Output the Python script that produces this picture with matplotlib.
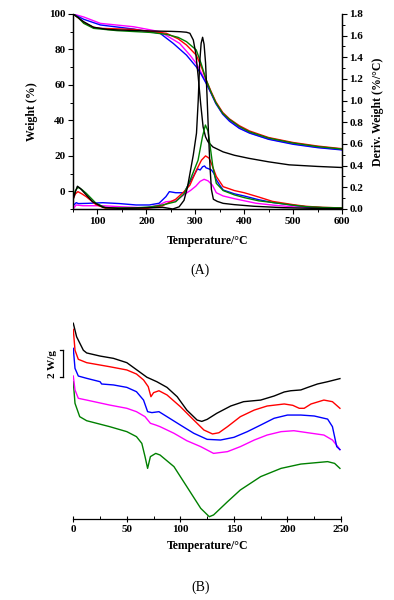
import matplotlib
matplotlib.use('Agg')
import matplotlib.pyplot as plt
from matplotlib.ticker import MultipleLocator

plt.rcParams['font.family'] = ['Liberation Serif', 'DejaVu Serif']
plt.rcParams['font.weight'] = 'bold'

# ---- panel A: TGA (weight %) ----
t_black = [50, 60, 72, 92, 120, 150, 207, 250, 269, 282, 289, 296, 301, 306, 311, 316, 321, 326, 336, 357, 380, 409, 450, 492, 550, 600]
w_black = [100, 98, 95.6, 92.5, 91.3, 90.9, 90.4, 90.2, 90.0, 89.7, 89.1, 85.3, 77.8, 64.6, 49.5, 36.3, 30.7, 27.9, 25.0, 22.2, 20.3, 18.6, 16.6, 14.9, 14.0, 13.4]
t_green = [50, 60, 72, 92, 140, 208, 241, 265, 282, 302, 312, 322, 332, 342, 356, 370, 390, 411, 450, 500, 550, 600]
w_green = [100, 98.2, 94.7, 91.9, 90.6, 89.6, 88.5, 86.8, 84.4, 79.7, 72, 63, 56, 50, 44, 40.5, 36.5, 33.5, 30, 27.2, 25.2, 23.8]
t_red = [50, 60, 72, 92, 106, 174, 241, 265, 282, 302, 312, 322, 332, 342, 356, 370, 390, 411, 450, 500, 550, 600]
w_red = [100, 98, 95, 92.5, 91.9, 91.3, 89.1, 86, 82.5, 76.8, 70.5, 63, 56.5, 50.5, 44.5, 40.8, 37, 34, 30.3, 27.5, 25.5, 24]
t_blue = [50, 72, 106, 174, 228, 255, 282, 302, 312, 322, 332, 342, 356, 370, 390, 411, 450, 500, 550, 600]
w_blue = [100, 97.0, 93.8, 91.5, 89.1, 83.4, 76.8, 70.2, 66, 61, 55.5, 49.5, 43.5, 39.5, 35.5, 32.8, 29.3, 26.5, 24.6, 23.3]
t_mag = [50, 72, 106, 174, 228, 268, 290, 302, 312, 322, 332, 342, 356, 370, 390, 411, 450, 500, 550, 600]
w_mag = [100, 98.3, 94.7, 92.8, 90, 83.4, 76.5, 72.1, 67, 61.5, 55.5, 49.8, 43.8, 39.8, 35.8, 33, 29.5, 26.8, 24.8, 23.5]

# ---- panel A: DTG (%/°C) ----
d_black_t = [50, 55, 59, 65, 74, 90, 111, 145, 213, 233, 254, 267, 277, 284, 290, 296, 302.5, 306, 309, 312, 315, 318, 321, 324, 327, 330, 333, 337, 345, 357, 380, 420, 480, 540, 600]
d_black = [0.083, 0.16, 0.21, 0.19, 0.145, 0.067, 0.016, 0.005, 0.012, 0.016, 0.0, 0.02, 0.08, 0.2, 0.35, 0.5, 0.7, 1.0, 1.35, 1.53, 1.585, 1.52, 1.35, 1.05, 0.7, 0.4, 0.18, 0.09, 0.07, 0.052, 0.04, 0.025, 0.012, 0.006, 0.004]
d_green_t = [50, 55, 60, 68, 77, 97, 117, 177, 210, 233, 260, 277, 288, 296, 305.7, 314.7, 320.7, 326, 329.6, 336, 343, 357, 380, 400, 430, 458, 500, 526, 560, 600]
d_green = [0.1, 0.17, 0.2, 0.18, 0.145, 0.053, 0.01, 0.01, 0.02, 0.037, 0.067, 0.14, 0.25, 0.34, 0.45, 0.667, 0.775, 0.72, 0.607, 0.39, 0.237, 0.17, 0.13, 0.105, 0.075, 0.06, 0.035, 0.022, 0.014, 0.01]
d_red_t = [50, 55, 60, 68, 77, 97, 117, 200, 233, 260, 277, 289, 302.5, 312.6, 321, 328, 333, 343, 357, 380, 400, 430, 458, 500, 526, 560, 600]
d_red = [0.09, 0.14, 0.16, 0.14, 0.114, 0.04, 0.005, 0.005, 0.03, 0.09, 0.16, 0.22, 0.36, 0.45, 0.49, 0.47, 0.42, 0.30, 0.206, 0.17, 0.15, 0.11, 0.07, 0.04, 0.025, 0.015, 0.01]
d_blue_t = [50, 56.5, 61, 80, 111, 145, 179, 206, 226, 240, 247, 260, 277, 288, 296, 304.6, 310, 315, 319, 322, 328, 333, 338, 343, 350, 357, 380, 400, 430, 458, 500, 526, 560, 600]
d_blue = [0.03, 0.058, 0.05, 0.052, 0.058, 0.05, 0.037, 0.037, 0.053, 0.114, 0.16, 0.15, 0.15, 0.24, 0.3, 0.37, 0.36, 0.39, 0.397, 0.38, 0.37, 0.36, 0.33, 0.27, 0.22, 0.175, 0.14, 0.12, 0.085, 0.06, 0.035, 0.02, 0.012, 0.008]
d_mag_t = [50, 56.5, 70, 111, 150, 200, 226, 240, 260, 281, 290, 301, 310, 318, 326, 335, 343, 357, 380, 424, 460, 500, 560, 600]
d_mag = [0.0, 0.037, 0.03, 0.03, 0.02, 0.01, 0.037, 0.067, 0.075, 0.145, 0.17, 0.21, 0.255, 0.274, 0.26, 0.22, 0.15, 0.12, 0.095, 0.053, 0.035, 0.02, 0.01, 0.006]

# ---- panel B: DSC (W/g, arbitrary offset) ----
b_black_t = [0, 3.1, 9.4, 12.5, 25, 37.5, 50, 59.4, 68.75, 78, 87.5, 97, 106, 115.6, 120, 125, 134, 147, 159, 175, 187.5, 197, 203, 212.5, 219, 228, 237.5, 249]
b_black = [14.5, 13.5, 12.5, 12.3, 12.07, 11.9, 11.58, 11.04, 10.5, 10.17, 9.75, 9.06, 8.07, 7.33, 7.23, 7.38, 7.83, 8.37, 8.69, 8.81, 9.11, 9.41, 9.5, 9.56, 9.75, 10.0, 10.17, 10.4]
b_red_t = [0, 1.6, 4.7, 12.5, 34, 50, 59, 65.6, 70, 72.5, 75, 80, 87.5, 100, 112.5, 122, 130, 136, 144, 156, 169, 181, 197, 205, 211, 215.6, 222, 234, 242, 249]
b_red = [14.05, 12.5, 11.83, 11.58, 11.28, 11.04, 10.74, 10.3, 9.8, 9.06, 9.36, 9.5, 9.19, 8.32, 7.33, 6.59, 6.3, 6.39, 6.84, 7.58, 8.07, 8.37, 8.52, 8.42, 8.2, 8.2, 8.52, 8.81, 8.69, 8.2]
b_blue_t = [0, 1.6, 4.7, 12.5, 25, 26.5, 37.5, 50, 59, 65.6, 69.4, 73.4, 80, 87.5, 100, 112.5, 125, 137.5, 150, 162.5, 175, 187.5, 200, 212.5, 225, 237.5, 242, 246, 249]
b_blue = [12.64, 11.16, 10.59, 10.42, 10.17, 10.0, 9.93, 9.75, 9.43, 8.81, 7.95, 7.88, 7.95, 7.58, 6.96, 6.35, 5.9, 5.85, 6.05, 6.47, 6.96, 7.46, 7.7, 7.7, 7.63, 7.4, 6.84, 5.36, 5.14]
b_mag_t = [0, 1.6, 4.7, 12.5, 34, 50, 59, 67, 72, 77, 81, 94, 106, 119, 131, 144, 156, 169, 181, 194, 206, 219, 234, 242, 247, 249]
b_mag = [10.59, 9.56, 8.94, 8.81, 8.44, 8.2, 7.95, 7.58, 7.09, 6.96, 6.84, 6.35, 5.8, 5.36, 4.86, 4.99, 5.36, 5.85, 6.22, 6.47, 6.54, 6.39, 6.22, 5.85, 5.36, 5.14]
b_green_t = [0, 1.6, 6, 12.5, 34, 50, 59, 64, 67, 69.4, 72, 77, 81, 94, 106, 119, 127, 131, 144, 156, 175, 194, 212.5, 237.5, 244, 249]
b_green = [10.17, 8.57, 7.58, 7.28, 6.84, 6.47, 6.1, 5.6, 4.62, 3.75, 4.62, 4.86, 4.74, 3.88, 2.4, 0.79, 0.17, 0.3, 1.28, 2.15, 3.14, 3.75, 4.07, 4.25, 4.12, 3.75]

colors = {'black': 'black', 'red': '#ff0000', 'blue': '#0000ff', 'mag': '#ff00ff', 'green': '#008000'}
lw = 1.0

fig = plt.figure(figsize=(3.94, 6.0), dpi=100)

# ---------------- panel A ----------------
ax = fig.add_axes([0.1853, 0.6517, 0.6827, 0.325])
ax2 = ax.twinx()

ax.plot(t_mag, w_mag, color=colors['mag'], lw=lw)
ax.plot(t_blue, w_blue, color=colors['blue'], lw=lw)
ax.plot(t_red, w_red, color=colors['red'], lw=lw)
ax.plot(t_green, w_green, color=colors['green'], lw=lw)
ax.plot(t_black, w_black, color=colors['black'], lw=lw)

ax2.plot(d_mag_t, d_mag, color=colors['mag'], lw=lw)
ax2.plot(d_blue_t, d_blue, color=colors['blue'], lw=lw)
ax2.plot(d_red_t, d_red, color=colors['red'], lw=lw)
ax2.plot(d_green_t, d_green, color=colors['green'], lw=lw)
ax2.plot(d_black_t, d_black, color=colors['black'], lw=lw)

ax.set_xlim(50, 600)
ax.set_ylim(-10, 100)
ax2.set_ylim(0, 1.8)
ax.set_xticks([100, 200, 300, 400, 500, 600])
ax.xaxis.set_minor_locator(MultipleLocator(50))
ax.set_yticks([0, 20, 40, 60, 80, 100])
ax.yaxis.set_minor_locator(MultipleLocator(10))
ax2.set_yticks([0.0, 0.2, 0.4, 0.6, 0.8, 1.0, 1.2, 1.4, 1.6, 1.8])
ax2.set_yticklabels(['%.1f' % v for v in [0.0, 0.2, 0.4, 0.6, 0.8, 1.0, 1.2, 1.4, 1.6, 1.8]])
ax2.yaxis.set_minor_locator(MultipleLocator(0.1))

for a in (ax, ax2):
    a.spines['top'].set_visible(False)
    for s in a.spines.values():
        s.set_linewidth(0.9)
    a.tick_params(which='major', length=3.5, width=0.8, labelsize=8, pad=2)
    a.tick_params(which='minor', length=2, width=0.7)
ax.tick_params(axis='both', direction='out')
ax2.tick_params(axis='y', direction='out')

ax.set_xlabel('Temperature/°C', fontsize=8.5, fontweight='bold', labelpad=7)
ax.set_ylabel('Weight (%)', fontsize=8.5, fontweight='bold', labelpad=8)
ax2.set_ylabel('Deriv. Weight (%/°C)', fontsize=8.5, fontweight='bold', labelpad=6)
fig.text(0.508, 0.55, '(A)', ha='center', va='center', fontsize=10, fontweight='normal')

# ---------------- panel B ----------------
bx = fig.add_axes([0.186, 0.135, 0.6795, 0.3375])
bx.plot(b_green_t, b_green, color=colors['green'], lw=lw)
bx.plot(b_mag_t, b_mag, color=colors['mag'], lw=lw)
bx.plot(b_blue_t, b_blue, color=colors['blue'], lw=lw)
bx.plot(b_red_t, b_red, color=colors['red'], lw=lw)
bx.plot(b_black_t, b_black, color=colors['black'], lw=lw)
bx.set_xlim(0, 250)
bx.set_ylim(0, 15)
for side in ('top', 'left', 'right'):
    bx.spines[side].set_visible(False)
bx.spines['bottom'].set_linewidth(0.9)
bx.set_yticks([])
bx.set_xticks([0, 50, 100, 150, 200, 250])
bx.xaxis.set_minor_locator(MultipleLocator(25))
bx.tick_params(which='major', direction='inout', length=4, width=0.8, labelsize=8, pad=2)
bx.tick_params(which='minor', direction='in', length=2, width=0.7)
bx.set_xlabel('Temperature/°C', fontsize=8.5, fontweight='bold', labelpad=5)

# scale bar 2 W/g
bar_x = -9.6
bar_lo, bar_hi = 10.5, 12.5
bx.plot([bar_x, bar_x], [bar_lo, bar_hi], color='black', lw=0.9, clip_on=False)
bx.plot([bar_x - 2.5, bar_x], [bar_hi, bar_hi], color='black', lw=0.9, clip_on=False)
bx.plot([bar_x - 2.5, bar_x], [bar_lo, bar_lo], color='black', lw=0.9, clip_on=False)
bx.text(bar_x - 10, (bar_lo + bar_hi) / 2, '2 W/g', rotation=90, ha='center', va='center',
        fontsize=8, fontweight='bold')

fig.text(0.508, 0.022, '(B)', ha='center', va='center', fontsize=10, fontweight='normal')

fig.savefig('out.png', dpi=100)
